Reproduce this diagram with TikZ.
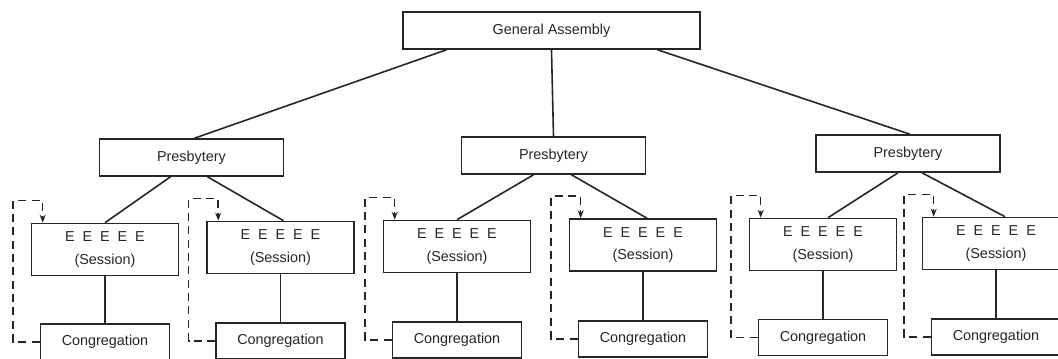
\documentclass[tikz,border=0pt]{standalone}
\usepackage{fontspec}
\setmainfont{Liberation Sans}
\usetikzlibrary{calc,arrows.meta}
\newcommand{\myfiveE}{E\hspace{0.55em}E\hspace{0.55em}E\hspace{0.55em}E\hspace{0.55em}E}
\tikzset{
  boxbase/.style={draw=black!85, line width=1.2pt, inner sep=0pt, fill=white,
    font=\fontsize{10.8}{17}\selectfont, text=black!85},
  gabox/.style={boxbase, minimum width=222.75pt, minimum height=27.75pt},
  presbox/.style={boxbase, minimum width=138pt, minimum height=27.75pt},
  sessbox/.style={boxbase, minimum width=110.25pt, minimum height=39pt, align=center},
  congbox/.style={boxbase, minimum width=96.75pt, minimum height=27pt},
  link/.style={draw=black!85, line width=1.2pt},
  feedback/.style={draw=black!85, line width=1.1pt, dash pattern=on 6pt off 4pt,
    -{Stealth[length=6pt,width=4.5pt]}}
}
\begin{document}
\begin{tikzpicture}[x=0.75pt,y=-0.75pt]
\useasboundingbox (0,0) rectangle (1058,359);
\clip (0,0) rectangle (1058,359);

\node[gabox] (GA) at (551.5,30.5) {General Assembly};

\node[presbox] (P1) at (191.5,157.5) {Presbytery};
\node[presbox] (P2) at (553.5,155.5) {Presbytery};
\node[presbox] (P3) at (908,153.5) {Presbytery};

\node[sessbox] (S1) at (105,249.5) {\myfiveE\\(Session)};
\node[sessbox] (S2) at (280.5,247.5) {\myfiveE\\(Session)};
\node[sessbox] (S3) at (457,246.5) {\myfiveE\\(Session)};
\node[sessbox] (S4) at (643,245) {\myfiveE\\(Session)};
\node[sessbox] (S5) at (823,244.5) {\myfiveE\\(Session)};
\node[sessbox] (S6) at (996,243.5) {\myfiveE\\(Session)};

\node[congbox] (C1) at (105,342) {Congregation};
\node[congbox] (C2) at (280.5,341) {Congregation};
\node[congbox] (C3) at (457,340) {Congregation};
\node[congbox] (C4) at (643,339) {Congregation};
\node[congbox] (C5) at (823,337.5) {Congregation};
\node[congbox] (C6) at (996,337) {Congregation};

\draw[link] ($(GA.south)+(-105,0)$) -- ($(P1.north)+(3,0)$);
\draw[link] (GA.south) -- (P2.north);
\draw[link] ($(GA.south)+(106,0)$) -- ($(P3.north)+(2,0)$);

\draw[link] ($(P1.south)+(-21,0)$) -- (S1.north);
\draw[link] ($(P1.south)+(16,0)$) -- ($(S2.north)+(3,0)$);
\draw[link] ($(P2.south)+(-20,0)$) -- (S3.north);
\draw[link] ($(P2.south)+(18,0)$) -- ($(S4.north)+(4,0)$);
\draw[link] ($(P3.south)+(-10,0)$) -- ($(S5.north)+(5,0)$);
\draw[link] ($(P3.south)+(14,0)$) -- ($(S6.north)+(9,0)$);

\foreach \i in {1,...,6}{
  \draw[link] (S\i.south) -- (C\i.north);
  \coordinate (L\i) at ($(S\i.north)+(-92,-22)$);
  \coordinate (T\i) at ($(S\i.north west)+(12,-22)$);
  \coordinate (A\i) at ($(S\i.north west)+(12,0)$);
  \draw[feedback] (C\i.west) -| (L\i) -- (T\i) -- (A\i);
}
\end{tikzpicture}
\end{document}
